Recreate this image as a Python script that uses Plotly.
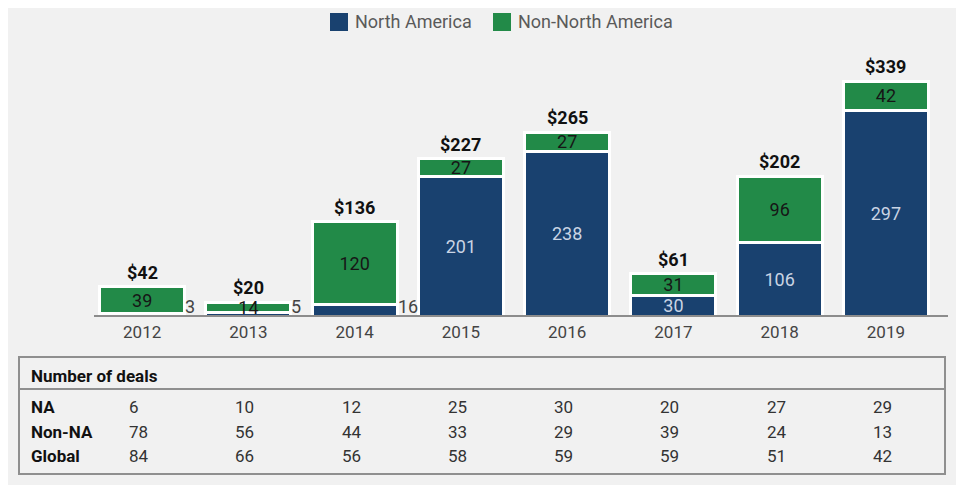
import plotly.graph_objects as go

years = ["2012", "2013", "2014", "2015", "2016", "2017", "2018", "2019"]
north_america = [3, 5, 16, 201, 238, 30, 106, 297]
non_north_america = [39, 14, 120, 27, 27, 31, 96, 42]
totals = [42, 20, 136, 227, 265, 61, 202, 339]
deals_na = [6, 10, 12, 25, 30, 20, 27, 29]
deals_non_na = [78, 56, 44, 33, 29, 39, 24, 13]
deals_global = [84, 66, 56, 58, 59, 59, 51, 42]
row_labels = ["NA", "Non-NA", "Global"]

BLUE = "#19416f"
GREEN = "#228a48"
BG = "#f1f1f1"
FONT = "Roboto, Liberation Sans, sans-serif"

# page has an 8px body margin; work in screen pixels and convert
OX, OY = 8, 8
W, H = 948, 477
L, R, T, B = 81, 17, 42, 169
PW, PH = W - L - R, H - T - B


def px(x):
    return (x - OX - L) / PW


def py(y):
    return (H - B - (y - OY)) / PH


fig = go.Figure()

na_text = [str(v) if v >= 25 else "" for v in north_america]
fig.add_trace(go.Bar(
    x=years, y=north_america, name="North America",
    marker=dict(color=BLUE, line=dict(color="white", width=3)),
    text=na_text, textposition="inside", insidetextanchor="middle",
    textfont=dict(color="#c9d4e4", size=18, family=FONT),
    constraintext="none", textangle=0, showlegend=False, hoverinfo="skip",
))
fig.add_trace(go.Bar(
    x=years, y=non_north_america, name="Non-North America",
    marker=dict(color=GREEN, line=dict(color="white", width=3)),
    text=[str(v) for v in non_north_america], textposition="inside",
    insidetextanchor="middle",
    textfont=dict(color="#161616", size=18, family=FONT),
    constraintext="none", textangle=0, showlegend=False, hoverinfo="skip",
))

annotations = []
# totals above bars
for i, tot in enumerate(totals):
    annotations.append(dict(x=i, y=tot, xref="x", yref="y", text=f"<b>${tot}</b>",
                            showarrow=False, yanchor="bottom", yshift=2,
                            font=dict(size=18, color="#111111", family=FONT)))
# small NA values to the right of bars
for i, v in enumerate(north_america):
    if v < 25:
        annotations.append(dict(x=i, y=0, xref="x", yref="y", text=str(v),
                                showarrow=False, xanchor="left", yanchor="bottom",
                                xshift=41, yshift=-3,
                                font=dict(size=18, color="#444444", family=FONT)))

# legend (manual)
shapes = []
legend_items = [("North America", BLUE, 330), ("Non-North America", GREEN, 493)]
for label, col, x0 in legend_items:
    shapes.append(dict(type="rect", xref="paper", yref="paper",
                       x0=px(x0), x1=px(x0 + 18), y0=py(31), y1=py(13),
                       fillcolor=col, line=dict(width=0)))
    annotations.append(dict(x=px(x0 + 23), y=py(22), xref="paper", yref="paper",
                            text=label, showarrow=False, xanchor="left", yanchor="middle",
                            font=dict(size=18, color="#5a5a5a", family=FONT)))

# x-axis baseline
shapes.append(dict(type="line", xref="paper", yref="paper", x0=px(94), x1=px(948),
                   y0=py(316), y1=py(316), line=dict(color="#8c8c8c", width=2)))

# table
shapes.append(dict(type="rect", xref="paper", yref="paper", x0=px(19), x1=px(945),
                   y0=py(474), y1=py(357), line=dict(color="#8f8f8f", width=2),
                   fillcolor="rgba(0,0,0,0)"))
shapes.append(dict(type="line", xref="paper", yref="paper", x0=px(19), x1=px(945),
                   y0=py(389), y1=py(389), line=dict(color="#8f8f8f", width=2)))
annotations.append(dict(x=px(29), y=py(376), xref="paper", yref="paper",
                        text="<b>Number of deals</b>", showarrow=False, xanchor="left",
                        yanchor="middle", font=dict(size=17, color="#111111", family=FONT)))
row_y = [407, 432, 456]
for lab, vals, yy in zip(row_labels, [deals_na, deals_non_na, deals_global], row_y):
    annotations.append(dict(x=px(29), y=py(yy), xref="paper", yref="paper",
                            text=f"<b>{lab}</b>", showarrow=False, xanchor="left",
                            yanchor="middle", font=dict(size=17, color="#111111", family=FONT)))
    for i, v in enumerate(vals):
        annotations.append(dict(x=i, y=py(yy), xref="x", yref="paper", text=str(v),
                                showarrow=False, xanchor="left", yanchor="middle", xshift=-15,
                                font=dict(size=17, color="#333333", family=FONT)))

fig.update_layout(
    width=W, height=H, barmode="stack", bargap=0.2,
    paper_bgcolor=BG, plot_bgcolor=BG,
    margin=dict(l=L, r=R, t=T, b=B),
    font=dict(family=FONT),
    xaxis=dict(type="category", range=[-0.5, 7.5], showgrid=False, zeroline=False,
               showline=False, ticks="outside", ticklen=1, tickcolor=BG,
               tickfont=dict(size=17, color="#444444", family=FONT)),
    yaxis=dict(range=[0, 384], visible=False, showgrid=False, zeroline=False),
    shapes=shapes, annotations=annotations,
)

fig.write_html("out.html")
